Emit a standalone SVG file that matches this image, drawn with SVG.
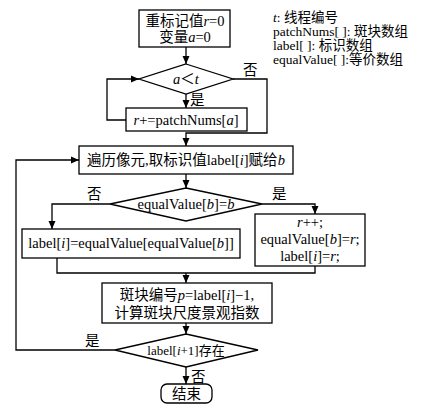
<svg xmlns="http://www.w3.org/2000/svg" width="421" height="409" viewBox="0 0 421 409">
<style>
.s{fill:#fff;stroke:#000;stroke-width:1.3}
.c{fill:none;stroke:#000;stroke-width:1.3}
text{font-family:"Liberation Serif","Noto Sans CJK SC",serif;font-size:14.5px;fill:#000}
.m{text-anchor:middle}
.l{font-size:13.5px}
.i{font-style:italic}
</style>
<defs>
<marker id="ar" viewBox="0 0 8 8" refX="8" refY="4" markerWidth="8" markerHeight="8" markerUnits="userSpaceOnUse" orient="auto">
<path d="M0,0.5 L8,4 L0,7.5 z" fill="#000"/>
</marker>
</defs>
<rect width="421" height="409" fill="#fff"/>
<g id="legend">
<text class="l" x="273" y="22"><tspan class="i">t</tspan>: 线程编号</text>
<text class="l" x="273" y="36">patchNums[ ]: 斑块数组</text>
<text class="l" x="273" y="50">label[ ]: 标识数组</text>
<text class="l" x="273" y="64">equalValue[ ]:等价数组</text>
</g>
<g id="connectors">
<path class="c" d="M186,47 V64" marker-end="url(#ar)"/>
<path class="c" d="M186,94 V108" marker-end="url(#ar)"/>
<path class="c" d="M126,120 H107 V79 H139" marker-end="url(#ar)"/>
<path class="c" d="M233,79 H267 V133 H186 V146" marker-end="url(#ar)"/>
<path class="c" d="M186,174 V188" marker-end="url(#ar)"/>
<path class="c" d="M110,204 H52 V229" marker-end="url(#ar)"/>
<path class="c" d="M262,204 H315 V214" marker-end="url(#ar)"/>
<path class="c" d="M57,258 V273 H315 V266"/>
<path class="c" d="M186,273 V283" marker-end="url(#ar)"/>
<path class="c" d="M186,323 V334" marker-end="url(#ar)"/>
<path class="c" d="M115,350 H16 V160 H79" marker-end="url(#ar)"/>
<path class="c" d="M186,367 V384" marker-end="url(#ar)"/>
<text x="190" y="105">是</text>
<text x="243" y="75">否</text>
<text x="87" y="199">否</text>
<text x="272" y="199">是</text>
<text x="85" y="346">是</text>
<text x="191" y="382">否</text>
</g>
<g id="init">
<rect class="s" x="139" y="10" width="91" height="37"/>
<text class="m" x="185" y="26">重标记值<tspan class="i">r</tspan>=0</text>
<text class="m" x="185" y="42">变量<tspan class="i">a</tspan>=0</text>
</g>
<g id="cond1">
<polygon class="s" points="186,64 233,79 186,94 139,79"/>
<text class="m" x="186" y="84"><tspan class="i">a</tspan>＜<tspan class="i">t</tspan></text>
</g>
<g id="accum">
<rect class="s" x="126" y="108" width="121" height="23"/>
<text class="m" x="186" y="125"><tspan class="i">r</tspan>+=patchNums[<tspan class="i">a</tspan>]</text>
</g>
<g id="traverse">
<rect class="s" x="79" y="146" width="214" height="28"/>
<text class="m" x="186" y="165">遍历像元,取标识值label[<tspan class="i">i</tspan>]赋给<tspan class="i">b</tspan></text>
</g>
<g id="cond2">
<polygon class="s" points="186,188 262,204 186,221 110,204"/>
<text class="m" x="186" y="209">equalValue[<tspan class="i">b</tspan>]=<tspan class="i">b</tspan></text>
</g>
<g id="assignNo">
<rect class="s" x="22" y="229" width="218" height="29"/>
<text class="m" x="131" y="248">label[<tspan class="i">i</tspan>]=equalValue[equalValue[<tspan class="i">b</tspan>]]</text>
</g>
<g id="assignYes">
<rect class="s" x="255" y="214" width="110" height="52"/>
<text class="m" x="310" y="227"><tspan class="i">r</tspan>++;</text>
<text class="m" x="310" y="244">equalValue[<tspan class="i">b</tspan>]=<tspan class="i">r</tspan>;</text>
<text class="m" x="310" y="261">label[<tspan class="i">i</tspan>]=<tspan class="i">r</tspan>;</text>
</g>
<g id="patch">
<rect class="s" x="102" y="283" width="170" height="40"/>
<text class="m" x="187" y="300">斑块编号<tspan class="i">p</tspan>=label[<tspan class="i">i</tspan>]−1,</text>
<text class="m" x="187" y="318">计算斑块尺度景观指数</text>
</g>
<g id="cond3">
<polygon class="s" points="186,334 258,350 186,367 115,350"/>
<text class="m" x="186" y="355" style="font-size:13px">label[<tspan class="i">i</tspan>+1]存在</text>
</g>
<g id="end">
<rect class="s" x="161" y="384" width="51" height="19" rx="6"/>
<text class="m" x="186.5" y="399">结束</text>
</g>
</svg>
